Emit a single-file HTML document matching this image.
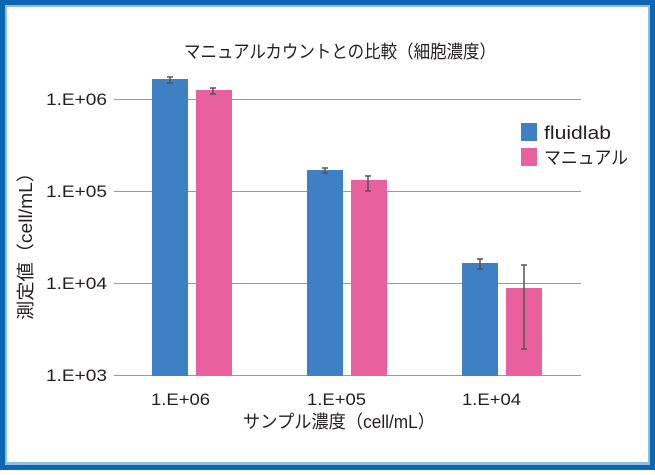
<!DOCTYPE html>
<html><head><meta charset="utf-8"><style>
body{margin:0;width:655px;height:470px;overflow:hidden;background:#fff}
svg text{font-family:"Liberation Sans","Noto Sans CJK JP",sans-serif;fill:#231f20}
</style></head><body>
<svg width="655" height="470" xmlns="http://www.w3.org/2000/svg">
<rect x="0" y="0" width="655" height="470" fill="#0b67b2"/>
<rect x="5" y="5" width="645" height="460" fill="#8fbde0"/>
<rect x="7" y="7" width="641" height="455" fill="#fff"/>
<text x="184" y="58" font-size="18" textLength="312" lengthAdjust="spacingAndGlyphs">マニュアルカウントとの比較（細胞濃度）</text>
<g stroke="#999" stroke-width="1">
<line x1="114" y1="99.5" x2="581" y2="99.5"/>
<line x1="114" y1="191.5" x2="581" y2="191.5"/>
<line x1="114" y1="283.5" x2="581" y2="283.5"/>
<line x1="114" y1="375.5" x2="581" y2="375.5"/>
</g>
<g font-size="17">
<text x="46" y="105" textLength="61" lengthAdjust="spacingAndGlyphs">1.E+06</text>
<text x="46" y="197" textLength="61" lengthAdjust="spacingAndGlyphs">1.E+05</text>
<text x="46" y="289" textLength="61" lengthAdjust="spacingAndGlyphs">1.E+04</text>
<text x="46" y="381" textLength="61" lengthAdjust="spacingAndGlyphs">1.E+03</text>
</g>
<g fill="#3d80c3">
<rect x="152" y="79" width="36" height="297"/>
<rect x="307" y="170" width="36" height="206"/>
<rect x="462" y="263" width="36" height="113"/>
<rect x="521" y="123" width="16" height="18"/>
</g>
<g fill="#e8609d">
<rect x="196" y="90" width="36" height="286"/>
<rect x="351" y="180" width="36" height="196"/>
<rect x="506" y="288" width="36" height="88"/>
<rect x="521" y="148" width="16" height="18"/>
</g>
<g stroke="#555" stroke-width="1.5">
<path d="M170 77V83M167 77H173M167 83H173"/>
<path d="M213 88V94M210 88H216M210 94H216"/>
<path d="M325 168V173M322 168H328M322 173H328"/>
<path d="M368 176V191M365 176H371M365 191H371"/>
<path d="M480 259V269M477 259H483M477 269H483"/>
<path d="M524 265V349M521 265H527M521 349H527"/>
</g>
<text x="544" y="139" font-size="18" textLength="67" lengthAdjust="spacingAndGlyphs">fluidlab</text>
<text x="544" y="164" font-size="18" textLength="84" lengthAdjust="spacingAndGlyphs">マニュアル</text>
<g font-size="17">
<text x="151" y="405" textLength="59" lengthAdjust="spacingAndGlyphs">1.E+06</text>
<text x="307" y="405" textLength="59" lengthAdjust="spacingAndGlyphs">1.E+05</text>
<text x="462" y="405" textLength="59" lengthAdjust="spacingAndGlyphs">1.E+04</text>
<text x="243" y="428" font-size="18" textLength="192" lengthAdjust="spacingAndGlyphs">サンプル濃度（cell/mL）</text>
</g>
<text transform="translate(32,320) rotate(-90)" font-size="18" textLength="157" lengthAdjust="spacingAndGlyphs">測定値（cell/mL）</text>
</svg>
</body></html>
